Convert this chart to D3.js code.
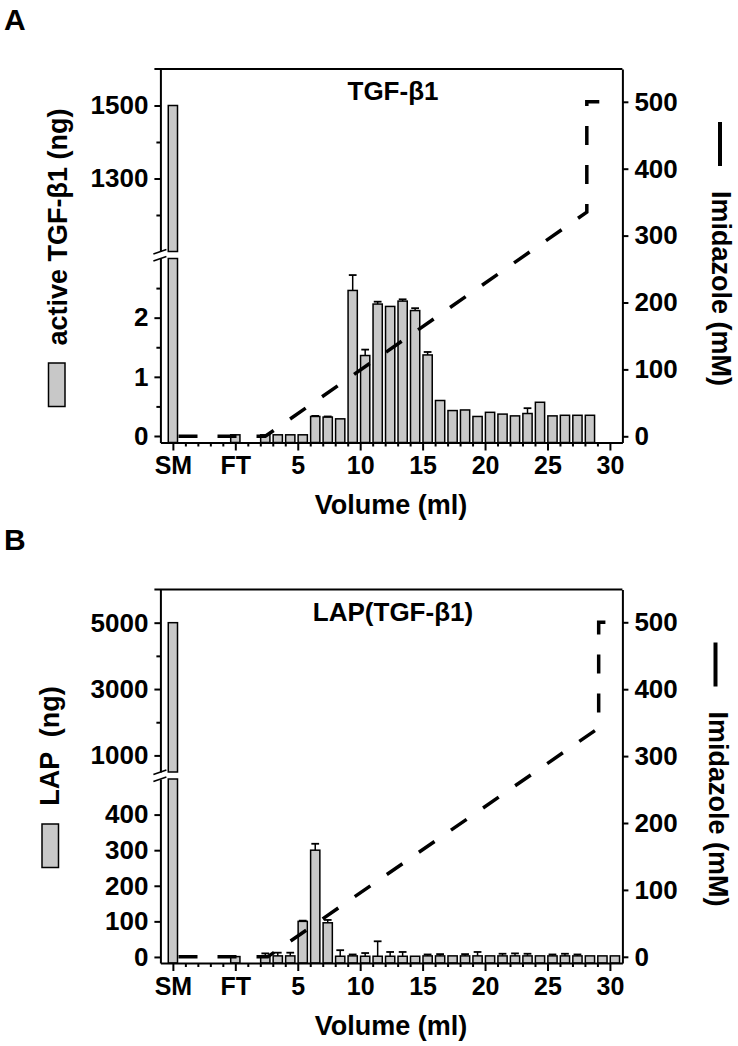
<!DOCTYPE html>
<html><head><meta charset="utf-8">
<script src="https://cdn.jsdelivr.net/npm/d3@7"></script>
<style>
body{margin:0;background:#fff}
text{font-family:"Liberation Sans",Arial,sans-serif;font-weight:bold;fill:#000}
</style>
</head><body>
<svg id="chart" width="738" height="1046" xmlns="http://www.w3.org/2000/svg"></svg>
<script>
// ---------- shared x axis ----------
const xTickValues = [-5, 0, 5, 10, 15, 20, 25, 30];
const xTickLabels = ["SM", "FT", "5", "10", "15", "20", "25", "30"];
const xMinorTicks = [-4,-3,-2,-1,1,2,3,4,6,7,8,9,11,12,13,14,16,17,18,19,21,22,23,24,26,27,28,29];
const rightTicks = [0, 100, 200, 300, 400, 500];

// ---------- Panel A: active TGF-β1 ----------
const categoriesA = ["SM","FT","2","3","4","5","6","7","8","9","10","11","12","13","14","15","16","17","18","19","20","21","22","23","24","25","26","27","28"];
const tgfValues   = [1500, 0.02, 0.02, 0.02, 0.02, 0.02, 0.33, 0.32, 0.29, 2.46, 1.36, 2.23, 2.19, 2.28, 2.12, 1.37, 0.60, 0.43, 0.44, 0.33, 0.40, 0.37, 0.34, 0.38, 0.57, 0.34, 0.35, 0.35, 0.35];
const tgfErrTop   = [null, null, null, null, null, null, 0.34, 0.33, null, 2.72, 1.46, 2.27, null, 2.31, 2.16, 1.42, null, null, null, null, null, null, null, 0.47, null, null, null, null, null];
const imidA_ml = [-4.55, 2.4, 28.15, 28.15, 29.15];
const imidA_mM = [0, 0, 335, 500, 500];
const leftUpperMajorA = [1300, 1500];
const leftUpperMinorA = [1200, 1400];
const leftLowerMajorA = [0, 1, 2];
const leftLowerMinorA = [0.5, 1.5, 2.5];

// ---------- Panel B: LAP(TGF-β1) ----------
const categoriesB = ["SM","FT","2","3","4","5","6","7","8","9","10","11","12","13","14","15","16","17","18","19","20","21","22","23","24","25","26","27","28","29","30"];
const lapValues   = [5000, 1, 3, 3, 3, 100, 300, 96, 2, 3, 2, 2, 2, 2, 2, 3, 3, 3, 3, 3, 3, 3, 3, 3, 3, 3, 3, 3, 3, 3, 3];
const lapErrTop   = [null, null, 10, 12, 12, 102, 318, 104, 19, 7, 11, 44, 14, 14, null, 7, 8, null, 8, 14, null, 9, 10, 9, null, 7, 9, 7, null, null, null];
const imidB_ml = [-4.55, 2.6, 29.1, 29.1, 30.55];
const imidB_mM = [0, 0, 342, 500, 500];
const leftUpperMajorB = [1000, 3000, 5000];
const leftUpperMinorB = [2000, 4000];
const leftLowerMajorB = [0, 100, 200, 300, 400];
const leftLowerMinorB = [];

const svg = d3.select("#chart");
svg.append("rect").attr("width", 738).attr("height", 1046).attr("fill", "#fff");
const fmt = d => String(d);

function catPos(c) {
  if (c === "SM") return -5;
  if (c === "FT") return 0;
  return +c + 0.4;
}

function styleAxis(g, fs) {
  g.attr("font-family", '"Liberation Sans", Arial, sans-serif')
   .attr("font-size", fs).attr("font-weight", "bold");
  g.selectAll("path").attr("stroke", "#000").attr("stroke-width", 2);
  g.selectAll("line").attr("stroke", "#000").attr("stroke-width", 2);
  g.selectAll("text").attr("fill", "#000");
}

function drawPanel(cfg) {
  const dy = cfg.dy;
  const g = svg.append("g");
  const x = d3.scaleLinear().domain([-6, 31]).range([160.4, 622.4]);
  const yU = d3.scaleLinear().domain(cfg.upperDomain).range([dy + 251.5, dy + 69]);
  const yL = d3.scaleLinear().domain(cfg.lowerDomain).range([dy + 442.5, dy + 258.5]);
  const yR = d3.scaleLinear().domain([0, 500]).range([dy + 436.3, dy + 101.8]);
  const bw = x(0.74) - x(0);

  // bars
  const data = cfg.categories.map((c, i) => ({c, v: cfg.values[i], e: cfg.errors[i]}));
  const lowMax = cfg.lowerDomain[1], lowMin = cfg.lowerDomain[0];
  const upMin = cfg.upperDomain[0];
  g.selectAll("rect.low").data(data).join("rect").attr("class", "low")
    .attr("x", d => x(catPos(d.c)) - bw / 2)
    .attr("width", bw)
    .attr("y", d => yL(Math.min(d.v, lowMax)))
    .attr("height", d => yL(lowMin) - yL(Math.min(d.v, lowMax)))
    .attr("fill", "#c8c8c8").attr("stroke", "#000").attr("stroke-width", 1.5);
  g.selectAll("rect.up").data(data.filter(d => d.v > upMin)).join("rect").attr("class", "up")
    .attr("x", d => x(catPos(d.c)) - bw / 2)
    .attr("width", bw)
    .attr("y", d => yU(d.v))
    .attr("height", d => yU(upMin) - yU(d.v))
    .attr("fill", "#c8c8c8").attr("stroke", "#000").attr("stroke-width", 1.5);
  // error bars
  const ed = data.filter(d => d.e != null && d.v <= lowMax);
  g.selectAll("line.err").data(ed).join("line").attr("class", "err")
    .attr("x1", d => x(catPos(d.c))).attr("x2", d => x(catPos(d.c)))
    .attr("y1", d => yL(d.v)).attr("y2", d => yL(d.e))
    .attr("stroke", "#000").attr("stroke-width", 1.5);
  g.selectAll("line.cap").data(ed).join("line").attr("class", "cap")
    .attr("x1", d => x(catPos(d.c)) - bw * 0.42).attr("x2", d => x(catPos(d.c)) + bw * 0.42)
    .attr("y1", d => yL(d.e)).attr("y2", d => yL(d.e))
    .attr("stroke", "#000").attr("stroke-width", 1.8);

  // left axes
  const axL = x(-6);
  const gu = g.append("g").attr("transform", `translate(${axL},0)`)
    .call(d3.axisLeft(yU).tickValues(cfg.upMajor).tickFormat(fmt).tickSize(6).tickPadding(6).tickSizeOuter(0));
  styleAxis(gu, 26);
  const gum = g.append("g").attr("transform", `translate(${axL},0)`)
    .call(d3.axisLeft(yU).tickValues(cfg.upMinor).tickSize(4).tickFormat(""));
  gum.select(".domain").remove(); styleAxis(gum, 26);
  const gl = g.append("g").attr("transform", `translate(${axL},0)`)
    .call(d3.axisLeft(yL).tickValues(cfg.lowMajor).tickFormat(fmt).tickSize(6).tickPadding(6).tickSizeOuter(0));
  styleAxis(gl, 26);
  const glm = g.append("g").attr("transform", `translate(${axL},0)`)
    .call(d3.axisLeft(yL).tickValues(cfg.lowMinor).tickSize(4).tickFormat(""));
  glm.select(".domain").remove(); styleAxis(glm, 26);

  // break marks
  [yU(upMin), yL(lowMax)].forEach(yy => {
    g.append("line").attr("x1", axL - 7).attr("y1", yy + 2.5).attr("x2", axL + 6).attr("y2", yy - 2)
      .attr("stroke", "#000").attr("stroke-width", 1.5);
  });

  // top frame line
  g.append("line").attr("x1", axL - 6).attr("x2", x(31)).attr("y1", yU.range()[1]).attr("y2", yU.range()[1])
    .attr("stroke", "#000").attr("stroke-width", 2);

  // right axis
  const yRaxis = yR.copy().domain([yR.invert(dy + 442.5), yR.invert(dy + 69)]).range([dy + 442.5, dy + 69]);
  const gr = g.append("g").attr("transform", `translate(${x(31)},0)`)
    .call(d3.axisRight(yRaxis).tickValues(rightTicks).tickFormat(fmt).tickSize(6).tickPadding(6).tickSizeOuter(0));
  styleAxis(gr, 26);

  // bottom axis
  const gb = g.append("g").attr("transform", `translate(0,${dy + 442.5})`)
    .call(d3.axisBottom(x).tickValues(xTickValues).tickFormat((d, i) => xTickLabels[i]).tickSize(8).tickPadding(6).tickSizeOuter(0));
  styleAxis(gb, 25);
  const gbm = g.append("g").attr("transform", `translate(0,${dy + 442.5})`)
    .call(d3.axisBottom(x).tickValues(xMinorTicks).tickSize(4).tickFormat(""));
  gbm.select(".domain").remove(); styleAxis(gbm, 25);

  // imidazole gradient
  const pts = cfg.imMl.map((m, i) => [m, cfg.imMM[i]]);
  g.append("path").datum(pts)
    .attr("d", d3.line().x(d => x(d[0])).y(d => yR(d[1])))
    .attr("fill", "none").attr("stroke", "#000").attr("stroke-width", 3.5)
    .attr("stroke-dasharray", "19,20");

  // titles
  g.append("text").attr("x", 393).attr("y", dy + 100).attr("text-anchor", "middle")
    .attr("font-size", 26).text(cfg.title);
  g.append("text").attr("x", 391).attr("y", dy + 514).attr("text-anchor", "middle")
    .attr("font-size", 27).text("Volume (ml)");
  g.append("text").attr("x", 4).attr("y", dy + 29.5).attr("font-size", 30).text(cfg.letter);

  // left y title + swatch
  g.append("text").attr("transform", `translate(${cfg.ltX},${dy + cfg.ltY}) rotate(-90)`)
    .attr("text-anchor", "middle").attr("font-size", 27)
    .style("white-space", "pre").text(cfg.leftTitle);
  g.append("rect").attr("x", cfg.swX).attr("y", dy + cfg.swY).attr("width", 16.5).attr("height", 43.5)
    .attr("fill", "#c8c8c8").attr("stroke", "#000").attr("stroke-width", 1.5);

  // right y title + legend line
  g.append("line").attr("x1", cfg.rlX).attr("x2", cfg.rlX).attr("y1", dy + 122).attr("y2", dy + 166)
    .attr("stroke", "#000").attr("stroke-width", 4);
  g.append("text").attr("transform", `translate(${cfg.rtX},${dy + 288.5}) rotate(90)`)
    .attr("text-anchor", "middle").attr("font-size", 27).text("Imidazole (mM)");
}

drawPanel({
  dy: 0, letter: "A", title: "TGF-β1",
  categories: categoriesA, values: tgfValues, errors: tgfErrTop,
  upperDomain: [1100, 1600], lowerDomain: [-0.11, 3],
  upMajor: leftUpperMajorA, upMinor: leftUpperMinorA,
  lowMajor: leftLowerMajorA, lowMinor: leftLowerMinorA,
  imMl: imidA_ml, imMM: imidA_mM,
  leftTitle: "active TGF-β1 (ng)", ltX: 66.5, ltY: 227, swX: 48.5, swY: 363,
  rlX: 720, rtX: 712
});
drawPanel({
  dy: 520.5, letter: "B", title: "LAP(TGF-β1)",
  categories: categoriesB, values: lapValues, errors: lapErrTop,
  upperDomain: [500, 6000], lowerDomain: [-17, 500],
  upMajor: leftUpperMajorB, upMinor: leftUpperMinorB,
  lowMajor: leftLowerMajorB, lowMinor: leftLowerMinorB,
  imMl: imidB_ml, imMM: imidB_mM,
  leftTitle: "LAP  (ng)", ltX: 58.5, ltY: 225.5, swX: 42, swY: 303.5,
  rlX: 715.5, rtX: 708.5
});
</script>
</body></html>
